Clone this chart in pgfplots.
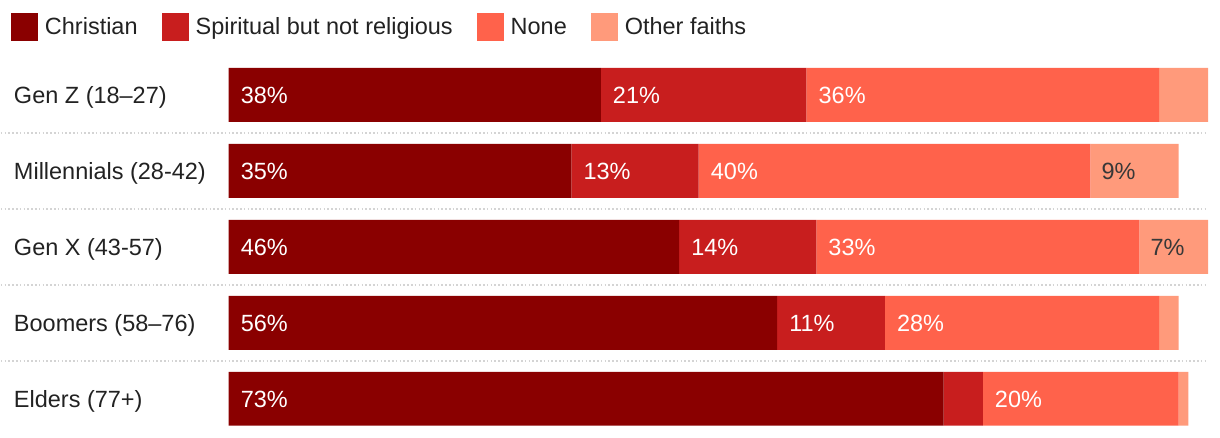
\documentclass[border=0pt]{standalone}
\usepackage{fontspec}
\setmainfont{Liberation Sans}
\usepackage{pgfplots}
\usepackage{pgfplotstable}
\pgfplotsset{compat=1.18}
\definecolor{cChr}{HTML}{8A0000}
\definecolor{cSbnr}{HTML}{C81E1E}
\definecolor{cNone}{HTML}{FF624B}
\definecolor{cOther}{HTML}{FF9A7B}
\definecolor{txt}{HTML}{222222}
\definecolor{sep}{HTML}{D4D4D4}
\pgfplotstableread{
y chr sbnr none other
0 38 21 36 5
1 35 13 40 9
2 46 14 33 7
3 56 11 28 2
4 73 4 20 1
}\data
\newcommand{\fs}{\fontsize{23.5}{28}\selectfont}
\tikzset{sepl/.style={sep, line width=1.6pt, dash pattern=on 1.6pt off 2.2pt},
  rl/.style={anchor=base west, inner sep=0pt, font=\fs, text=txt, xshift=-215pt, yshift=-9pt},
  wl/.style={anchor=base west, inner sep=0pt, font=\fs, text=white, xshift=12pt, yshift=-8.5pt},
  dl/.style={anchor=base west, inner sep=0pt, font=\fs, text=txt!90, xshift=11pt, yshift=-8.5pt}}
\pgfplotsset{common/.style={
  y dir=reverse,
  xmin=0, xmax=100, ymin=-0.5, ymax=4.5,
  scale only axis, width=980pt, height=380pt,
  hide axis, clip=false}}
\begin{document}
\begin{tikzpicture}
\begin{axis}[
  common,
  xbar stacked, bar width=54pt, bar shift=0pt,
  legend columns=4,
  legend image code/.code={\fill[#1] (0pt,-14pt) rectangle (27pt,14pt);},
  legend style={draw=none, fill=none, at={(rel axis cs:0,1)}, anchor=north west,
    xshift=-218pt, yshift=44pt, inner sep=0pt,
    font=\fs, text=txt,
    /tikz/every even column/.append style={column sep=22pt},
    /tikz/every odd column/.append style={column sep=5pt}},
  legend cell align=left,
]
\addplot[fill=cChr, draw=none] table[x=chr, y=y]{\data};
\addplot[fill=cSbnr, draw=none] table[x=sbnr, y=y]{\data};
\addplot[fill=cNone, draw=none] table[x=none, y=y]{\data};
\addplot[fill=cOther, draw=none] table[x=other, y=y]{\data};
\legend{Christian, Spiritual but not religious, None, Other faiths}
\end{axis}
\begin{axis}[common]
\draw[sepl] ([xshift=-228pt]axis cs:0,0.5) -- (axis cs:100,0.5);
\draw[sepl] ([xshift=-228pt]axis cs:0,1.5) -- (axis cs:100,1.5);
\draw[sepl] ([xshift=-228pt]axis cs:0,2.5) -- (axis cs:100,2.5);
\draw[sepl] ([xshift=-228pt]axis cs:0,3.5) -- (axis cs:100,3.5);
\node[rl] at (axis cs:0,0) {Gen Z (18–27)};
\node[rl] at (axis cs:0,1) {Millennials (28-42)};
\node[rl] at (axis cs:0,2) {Gen X (43-57)};
\node[rl] at (axis cs:0,3) {Boomers (58–76)};
\node[rl] at (axis cs:0,4) {Elders (77+)};
% Gen Z
\node[wl] at (axis cs:0,0) {38\%};
\node[wl] at (axis cs:38,0) {21\%};
\node[wl] at (axis cs:59,0) {36\%};
% Millennials
\node[wl] at (axis cs:0,1) {35\%};
\node[wl] at (axis cs:35,1) {13\%};
\node[wl] at (axis cs:48,1) {40\%};
\node[dl] at (axis cs:88,1) {9\%};
% Gen X
\node[wl] at (axis cs:0,2) {46\%};
\node[wl] at (axis cs:46,2) {14\%};
\node[wl] at (axis cs:60,2) {33\%};
\node[dl] at (axis cs:93,2) {7\%};
% Boomers
\node[wl] at (axis cs:0,3) {56\%};
\node[wl] at (axis cs:56,3) {11\%};
\node[wl] at (axis cs:67,3) {28\%};
% Elders
\node[wl] at (axis cs:0,4) {73\%};
\node[wl] at (axis cs:77,4) {20\%};
\end{axis}
\path (current axis.south west) ++(-228pt,-1pt) rectangle ++(1220pt,438pt);
\end{tikzpicture}
\end{document}
